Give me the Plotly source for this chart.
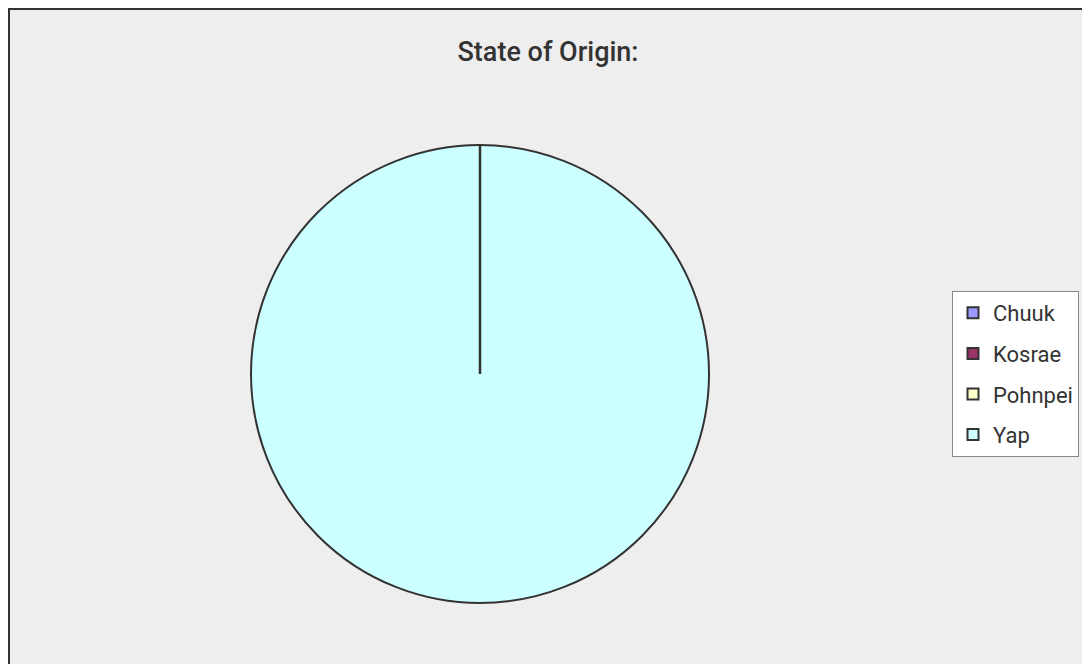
import plotly.graph_objects as go

categories = ["Chuuk", "Kosrae", "Pohnpei", "Yap"]
values = [0, 0, 0, 100]
colors = ["#9999FF", "#993366", "#FFFFCC", "#CCFFFF"]
title_text = "State of Origin:"

W, H = 1090, 664
OFF = 8  # page body margin
cx, cy, r = 480 - OFF, 374 - OFF, 229  # pie center / radius in pixels

dom_x = [(cx - r) / W, (cx + r) / W]
dom_y = [1 - (cy + r) / H, 1 - (cy - r) / H]

fig = go.Figure()
fig.add_trace(go.Pie(
    labels=categories, values=values, sort=False, direction="clockwise",
    rotation=0, marker=dict(colors=colors, line=dict(color="#333333", width=2)),
    textinfo="none", showlegend=False, domain=dict(x=dom_x, y=dom_y),
))

for i, (c, col) in enumerate(zip(categories, colors)):
    fig.add_trace(go.Scatter(
        x=[None], y=[None], mode="markers", name=c, legendgroup=c,
        marker=dict(symbol="square", size=11, color=col, line=dict(color="#333333", width=2)),
    ))

# Border / plot background
fig.add_shape(type="rect", xref="paper", yref="paper",
              x0=1 / W, x1=1.05, y0=-0.05, y1=1 - 1 / H,
              fillcolor="#EEEEEE", line=dict(color="#333333", width=2), layer="below")
# radial boundary of the zero-valued slices (12 o'clock)
fig.add_shape(type="line", xref="paper", yref="paper",
              x0=(dom_x[0] + dom_x[1]) / 2, x1=(dom_x[0] + dom_x[1]) / 2,
              y0=(dom_y[0] + dom_y[1]) / 2, y1=dom_y[1],
              line=dict(color="#333333", width=2.5))

fig.update_layout(
    width=W, height=H, margin=dict(l=0, r=0, t=0, b=0),
    paper_bgcolor="white", plot_bgcolor="rgba(0,0,0,0)",
    xaxis=dict(visible=False), yaxis=dict(visible=False),
    title=dict(text=title_text, x=(548 - OFF) / W, xanchor="center", y=1 - (52 - OFF) / H,
               yanchor="middle",
               font=dict(family="Roboto", size=27, color="#333333", weight=500)),
    legend=dict(x=(952 - OFF) / W, xanchor="left", y=1 - (291 - OFF) / H, yanchor="top",
                bgcolor="white", bordercolor="#888888", borderwidth=1,
                font=dict(family="Roboto", size=22, color="#333333"),
                tracegroupgap=9, itemwidth=30),
)

fig.write_html("out.html")
